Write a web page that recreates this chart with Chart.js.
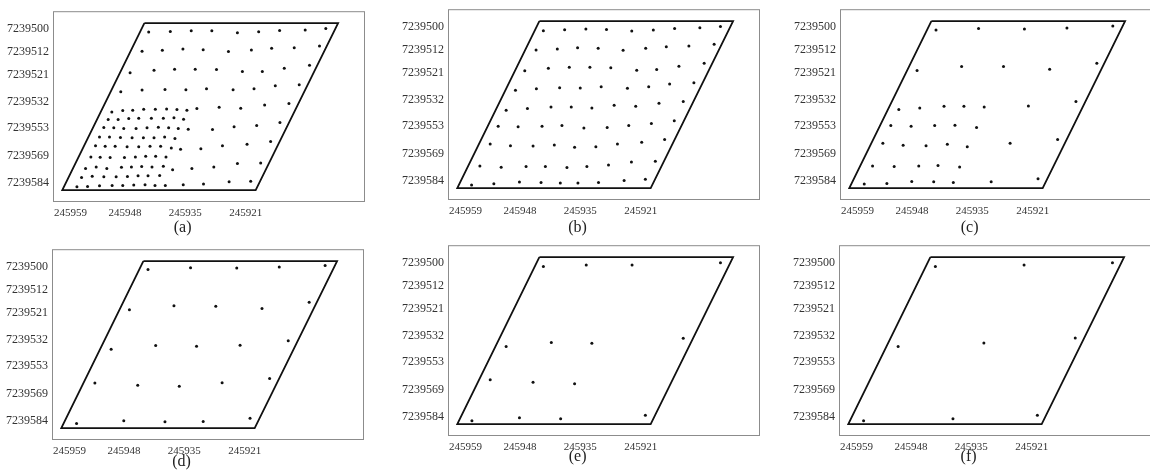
<!DOCTYPE html>
<html>
<head>
<meta charset="utf-8">
<script src="https://cdn.jsdelivr.net/npm/chart.js@4.4.1/dist/chart.umd.min.js"></script>
<style>
  html, body { margin: 0; padding: 0; background: #fff; width: 1150px; height: 476px; overflow: hidden; }
  canvas { position: absolute; }
</style>
</head>
<body>
<script>
// Axis tick labels (placed at fixed positions of the local survey grid)
const yTickPos = [52, 122, 193, 273, 353, 437, 519];
const yTickLabels = ['7239500', '7239512', '7239521', '7239532', '7239553', '7239569', '7239584'];
const xTickPos = [53, 217, 398, 580];
const xTickLabels = ['245959', '245948', '245935', '245921'];

// Field boundary (parallelogram), local grid units
const boundary = [[275, 36], [858, 36], [610, 540], [28, 540], [275, 36]];

// Sampling points of each scheme, local grid units [x, y]
const pointsA = [
  [288,63],[353,61],[416,59],[478,59],[555,65],[619,62],[682,58],[759,57],[821,52],
  [268,121],[329,118],[391,114],[452,116],[528,122],[597,117],[658,112],[726,110],[802,105],
  [232,186],[304,178],[366,175],[428,175],[492,176],[570,182],[630,182],[696,172],[772,163],
  [204,243],[268,238],[337,236],[400,237],[462,234],[542,237],[605,234],[669,225],[741,222],
  [177,304],[210,300],[240,299],[273,296],[308,296],[342,295],[373,297],[403,299],[433,294],
  [500,290],[565,293],[637,283],[710,279],
  [166,327],[196,327],[228,324],[258,323],[296,323],[332,323],[364,322],[393,326],
  [153,351],[183,352],[213,354],[250,354],[283,352],[317,350],[348,352],[377,354],[407,356],
  [480,357],[545,349],[613,345],[683,336],
  [140,380],[170,380],[203,381],[238,382],[272,382],[304,382],[336,380],[367,384],
  [128,406],[157,408],[187,408],[223,409],[258,409],[292,408],[324,408],[356,413],[384,417],
  [445,415],[510,406],[584,402],[655,393],
  [114,440],[142,441],[172,442],[215,442],[248,440],[279,438],[309,438],[340,440],
  [98,475],[130,470],[162,475],[206,471],[236,470],[267,469],[298,470],[332,468],[360,479],
  [418,475],[484,470],[555,460],[625,458],
  [86,502],[118,498],[153,500],[190,500],[224,499],[256,497],[286,497],[321,496],
  [72,530],[104,529],[140,527],[178,526],[210,526],[243,525],[277,524],[307,526],[338,526],
  [392,524],[453,522],[530,515],[595,513]
];
const pointsB = [
  [287,65],[351,62],[415,60],[477,61],[553,66],[618,63],[682,58],[758,56],[820,52],
  [265,123],[329,120],[390,116],[452,118],[527,124],[595,118],[657,113],[725,111],[801,106],
  [231,186],[302,178],[365,175],[427,175],[490,177],[568,184],[628,182],[695,172],[771,163],
  [203,245],[266,240],[336,237],[398,238],[461,234],[540,239],[604,234],[667,226],[740,222],
  [175,305],[239,300],[310,295],[371,295],[433,298],[500,290],[565,293],[635,284],[708,279],
  [151,353],[211,355],[283,353],[343,351],[409,359],[479,357],[544,351],[612,345],[681,337],
  [127,407],[188,412],[256,413],[320,410],[381,417],[445,415],[510,407],[583,402],[652,393],
  [96,473],[160,477],[235,475],[293,475],[358,478],[418,475],[483,470],[552,461],[624,459],
  [71,531],[138,527],[215,522],[280,523],[338,525],[391,525],[453,523],[530,517],[594,513]
];
const pointsC = [
  [289,63],[417,58],[555,60],[683,57],[821,51],
  [773,163],
  [232,185],[366,173],[492,173],[631,181],
  [177,303],[240,298],[313,293],[373,293],[434,295],[567,292],[710,279],
  [153,351],[214,353],[285,351],[346,350],[411,357],
  [129,405],[190,411],[259,412],[323,408],[383,415],[512,405],[655,393],
  [98,473],[163,475],[237,473],[295,472],[360,476],
  [73,528],[141,526],[216,520],[282,521],[341,523],[455,521],[596,512]
];
const pointsD = [
  [289,61],[417,56],[556,57],[684,54],[822,49],
  [774,160],
  [233,183],[367,171],[493,172],[632,179],
  [178,302],[312,291],[435,293],[566,290],[711,276],
  [129,404],[258,411],[383,414],[512,403],[655,390],
  [74,526],[216,518],[340,521],[455,520],[596,510]
];
const pointsE = [
  [287,64],[416,60],[554,60],[820,53],
  [175,306],[311,294],[433,296],[708,281],
  [127,406],[256,414],[381,418],
  [72,530],[215,521],[339,524],[594,513]
];
const pointsF = [
  [290,64],[557,60],[823,53],
  [178,306],[436,295],[711,280],
  [74,530],[343,524],[597,513]
];

const captions = ['(a)', '(b)', '(c)', '(d)', '(e)', '(f)'];
const captionX = 390;

// Page layout of the six panels (plot frame top-left corner, caption offset)
const panels = [
  { pts: pointsA, left: 53,  top: 10,  capDy: 26 },
  { pts: pointsB, left: 448, top: 8,   capDy: 28 },
  { pts: pointsC, left: 840, top: 8,   capDy: 28 },
  { pts: pointsD, left: 52,  top: 248, capDy: 22 },
  { pts: pointsE, left: 448, top: 244, capDy: 21 },
  { pts: pointsF, left: 839, top: 244, capDy: 21 }
];

const FONT = "'Liberation Serif', 'Times New Roman', serif";
const AXIS_W = 60, PAD_TOP = 10, PAD_RIGHT = 3, X_AXIS_H = 42;
const FRAME_W = 313, FRAME_H = 192;
const CANVAS_W = AXIS_W + FRAME_W + PAD_RIGHT;
const CANVAS_H = PAD_TOP + FRAME_H + X_AXIS_H;

const frameAndCaption = {
  id: 'frameAndCaption',
  afterDraw(chart, args, opts) {
    const { ctx, chartArea: a } = chart;
    ctx.save();
    ctx.strokeStyle = '#8c8c8c';
    ctx.lineWidth = 1;
    ctx.strokeRect(a.left + 0.5, a.top + 0.5, a.right - a.left - 1, a.bottom - a.top - 1);
    ctx.fillStyle = '#222';
    ctx.font = '16px ' + FONT;
    ctx.textAlign = 'center';
    ctx.textBaseline = 'middle';
    ctx.fillText(opts.text, chart.scales.x.getPixelForValue(captionX), a.bottom + opts.dy);
    ctx.restore();
  }
};

panels.forEach((p, k) => {
  const c = document.createElement('canvas');
  c.width = CANVAS_W;
  c.height = CANVAS_H;
  c.style.left = (p.left - AXIS_W) + 'px';
  c.style.top = (p.top - PAD_TOP) + 'px';
  document.body.appendChild(c);

  new Chart(c, {
    type: 'scatter',
    data: {
      datasets: [
        {
          data: boundary.map(([x, y]) => ({ x, y })),
          showLine: true,
          borderColor: '#111',
          borderWidth: 1.8,
          pointRadius: 0,
          fill: false
        },
        {
          data: p.pts.map(([x, y]) => ({ x, y })),
          pointRadius: 1.5,
          backgroundColor: '#111',
          borderWidth: 0
        }
      ]
    },
    options: {
      responsive: false,
      animation: false,
      devicePixelRatio: 1,
      layout: { padding: { top: PAD_TOP, right: PAD_RIGHT, left: 0, bottom: 0 } },
      plugins: {
        legend: { display: false },
        tooltip: { enabled: false },
        frameAndCaption: { text: captions[k], dy: p.capDy }
      },
      scales: {
        x: {
          type: 'linear', min: 0, max: 939,
          grid: { display: false, drawTicks: false }, border: { display: false },
          afterBuildTicks: s => { s.ticks = xTickPos.map(v => ({ value: v })); },
          afterFit: s => { s.height = X_AXIS_H; },
          ticks: {
            autoSkip: false, maxRotation: 0, padding: 5,
            font: { family: FONT, size: 11 }, color: '#333',
            callback: (v, i) => xTickLabels[i]
          }
        },
        y: {
          type: 'linear', min: 0, max: 576, reverse: true,
          grid: { display: false, drawTicks: false }, border: { display: false },
          afterBuildTicks: s => { s.ticks = yTickPos.map(v => ({ value: v })); },
          afterFit: s => { s.width = AXIS_W; },
          ticks: {
            autoSkip: false, padding: 4,
            font: { family: FONT, size: 12 }, color: '#333',
            callback: (v, i) => yTickLabels[i]
          }
        }
      }
    },
    plugins: [frameAndCaption]
  });
});
</script>
</body>
</html>
